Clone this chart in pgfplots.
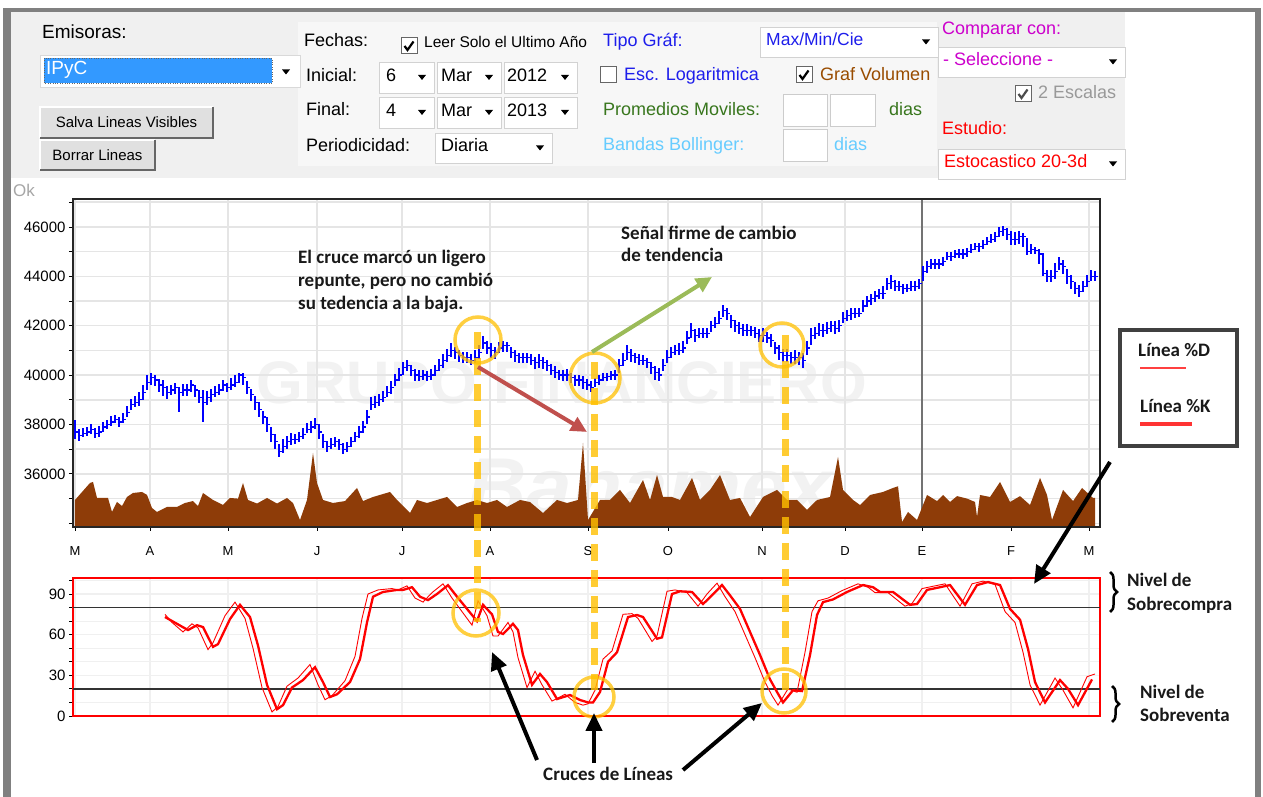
\documentclass[border=0pt]{standalone}
\usepackage{fontspec}
\setmainfont{Liberation Sans}
\newfontfamily\calfont{Carlito}
\usepackage{pgfplots}
\pgfplotsset{compat=1.18}
\usetikzlibrary{arrows.meta,decorations.pathreplacing}
\definecolor{framegray}{RGB}{128,128,128}
\definecolor{hdr}{RGB}{240,240,240}
\definecolor{panel}{RGB}{247,247,247}
\definecolor{selblue}{RGB}{51,153,255}
\definecolor{uiblue}{RGB}{30,30,235}
\definecolor{uibrown}{RGB}{153,76,0}
\definecolor{uigreen}{RGB}{56,118,29}
\definecolor{uilblue}{RGB}{102,204,255}
\definecolor{uimag}{RGB}{204,0,204}
\definecolor{uired}{RGB}{255,0,0}
\definecolor{volbrown}{RGB}{142,60,8}
\definecolor{yel}{RGB}{255,192,0}
\definecolor{arrred}{RGB}{192,80,77}
\definecolor{arrgreen}{RGB}{155,187,89}
\definecolor{wm}{RGB}{242,242,242}
\newcommand\fs[1]{\fontsize{#1}{#1}\selectfont}
\tikzset{t/.style={anchor=west, inner sep=0pt, text height=0.72em, text depth=0pt},
  a/.style={t, font=\calfont\bfseries\fs{19}, text=black!90}}
\pgfplotsset{ohlc/.style={blue, only marks, mark=-, mark size=1.6pt, mark options={xshift=1.5pt, line width=1.2pt},
  error bars/.cd, y dir=both, y explicit, error mark=none,
  error bar style={blue, line width=1.2pt}}}
\newcommand\dd[4]{%
  \fill[white] (#1,#2) rectangle (#3,#4);
  \draw[gray!35, line width=0.8] (#1,#2) rectangle (#3,#4);
  \fill[black] ({#3-16},{(#2+#4)/2-2.5}) -- ({#3-8},{(#2+#4)/2-2.5}) -- ({#3-12},{(#2+#4)/2+2.5}) -- cycle;}
\newcommand\cb[4]{%
  \fill[white] (#1,#2) rectangle ++(16,16);
  \draw[gray!80!black, line width=1] (#1,#2) rectangle ++(16,16);
  \ifnum#3=1 \draw[#4, line width=2.2] ({#1+3.5},{#2+8}) -- ({#1+6.5},{#2+12}) -- ({#1+12.5},{#2+3.5});\fi}
\newcommand\btn[5]{%
  \fill[gray!24] (#1,#2) rectangle (#3,#4);
  \draw[white, line width=1.5] (#1,#4) -- (#1,#2) -- (#3,#2);
  \draw[black!60, line width=2] (#3,#2) -- (#3,#4) -- (#1,#4);
  \node[font=\fs{15}] at ({(#1+#3)/2},{(#2+#4)/2}) {#5};}
\newcommand\tb[4]{%
  \fill[white] (#1,#2) rectangle (#3,#4);
  \draw[gray!40, line width=1] (#1,#2) rectangle (#3,#4);}
\begin{document}
\begin{tikzpicture}[x=1pt,y=1pt]
\useasboundingbox (0,0) rectangle (1263,797);
\fill[white] (0,0) rectangle (1263,797);
\begin{scope}[shift={(0,797)},yscale=-1]
% frame
\fill[framegray] (3,8) rectangle (1261,12);
\fill[framegray] (3,8) rectangle (11,797);
\fill[framegray] (1255,8) rectangle (1261,797);
% header
\fill[hdr] (11,12) rectangle (1125,178);
\fill[panel] (298,22) rectangle (937,166);
\node[t, font=\fs{19}] at (42,35) {Emisoras:};
\fill[white] (40,55) rectangle (300,87); \draw[gray!30] (40,55) rectangle (300,87);
\fill[selblue] (44,58) rectangle (272,83);
\draw[black!60, dotted] (44,58) rectangle (272,83);
\node[t, font=\fs{19}, text=white] at (46,71) {IPyC};
\fill[black] (282,69.5) -- (290,69.5) -- (286,74.5) -- cycle;
\btn{40}{107}{213}{138}{Salva Lineas Visibles}
\btn{40}{140}{155}{170}{Borrar Lineas}
\node[t, font=\fs{18}] at (304,43) {Fechas:};
\cb{401}{38}{1}{black}
\node[t, font=\fs{15.5}] at (424,44) {Leer Solo el Ultimo Año};
\node[t, font=\fs{18}] at (306,78) {Inicial:};
\dd{379}{62}{434}{93}\dd{437}{62}{501}{93}\dd{504}{62}{577}{93}
\node[t, font=\fs{18}] at (386,78) {6};
\node[t, font=\fs{18}] at (441,78) {Mar};
\node[t, font=\fs{18}] at (507,78) {2012};
\node[t, font=\fs{18}] at (306,112) {Final:};
\dd{379}{97}{434}{128}\dd{437}{97}{501}{128}\dd{504}{97}{577}{128}
\node[t, font=\fs{18}] at (386,113) {4};
\node[t, font=\fs{18}] at (441,113) {Mar};
\node[t, font=\fs{18}] at (507,113) {2013};
\node[t, font=\fs{18}] at (306,148) {Periodicidad:};
\dd{435}{133}{552}{163}
\node[t, font=\fs{18}] at (441,148) {Diaria};
\node[t, font=\fs{18}, text=uiblue] at (603,43) {Tipo Gráf:};
\dd{760}{27}{938}{57}
\node[t, font=\fs{17.5}, text=uiblue] at (766,42) {Max/Min/Cie};
\cb{600}{67}{0}{black}
\begin{scope}\clip (620,60) rectangle (761,95);
\node[t, font=\fs{18}, text=uiblue] at (624,77) {Esc. Logaritmica};
\end{scope}
\cb{796}{67}{1}{black}
\node[t, font=\fs{18}, text=uibrown] at (820,77) {Graf Volumen};
\node[t, font=\fs{18}, text=uigreen] at (603,112) {Promedios Moviles:};
\tb{783}{95}{827}{127}\tb{830}{95}{875}{127}
\node[t, font=\fs{18}, text=uigreen] at (889,112) {dias};
\node[t, font=\fs{18}, text=uilblue] at (603,147) {Bandas Bollinger:};
\tb{783}{130}{827}{162}
\node[t, font=\fs{18}, text=uilblue] at (834,147) {dias};
\node[t, font=\fs{18}, text=uimag] at (942,31) {Comparar con:};
\dd{938}{47}{1125}{77}
\node[t, font=\fs{18}, text=uimag] at (943,62) {- Seleccione -};
\cb{1015}{86}{1}{black!70}
\node[t, font=\fs{18}, text=gray!80] at (1038,95) {2 Escalas};
\node[t, font=\fs{18}, text=uired] at (942,131) {Estudio:};
\dd{938}{149}{1125}{179}
\node[t, font=\fs{18}, text=uired] at (944,164) {Estocastico 20-3d};
\node[t, font=\fs{17}, text=gray!70] at (13,193) {Ok};
% watermark
\node[font=\bfseries\fs{60}, text=wm] at (562,383) {GRUPO FINANCIERO};
\node[font=\bfseries\itshape\fs{82}, text=wm, inner sep=0pt] at (650,488) {Banamex};
\end{scope}

% ---------- main price chart ----------
\begin{axis}[
  at={(73pt,270pt)}, anchor=south west, scale only axis,
  width=1027pt, height=328pt,
  xmin=-0.5, xmax=256.25, ymin=33850, ymax=47130,
  axis line style={black!85, line width=1.2pt},
  xtick={0,18.75,38.25,60.5,81.75,103.75,128.25,148.25,171.75,192.5,211.75,234,253.5},
  xticklabels={M,A,M,J,J,A,S,O,N,D,E,F,M},
  ytick={36000,38000,40000,42000,44000,46000},
  minor ytick={34000,35000,37000,39000,41000,43000,45000,47000},
  xtick pos=bottom, ytick pos=left,
  grid=both, grid style={gray!20, line width=1.5pt},
  minor grid style={gray!20, line width=1.5pt},
  tick align=outside, major tick length=4pt, minor tick length=4pt,
  tick style={black, line width=0.8pt},
  minor tick style={black, line width=0.8pt},
  yticklabel style={font=\fs{15}},
  xticklabel style={font=\fs{13}, anchor=center, yshift=-20pt},
  /pgf/number format/assume math mode=true,
  /pgf/number format/set thousands separator={},
  scaled y ticks=false,
]
\addplot[black!55, line width=1.2pt] coordinates {(211.75,33850) (211.75,47130)};
\addplot[draw=none, fill=volbrown] table[x=d, y=v] {
d v
0 34944
3.75 35632
4.5 35673
5.5 35025
8.25 35025
9.25 34458
10.5 34863
11.75 34700
13 35065
14.5 35227
16.75 35268
18 35150
19.25 34620
20.5 34458
23 34660
25.5 34660
27.5 34822
29.5 34900
30.75 34700
32 35227
34.5 34944
37 34741
38.75 35025
40.75 35000
42 35632
43.25 34944
45.5 34800
48 35025
50.5 34800
53 35025
54.5 34820
56.25 34134
58 34944
59.5 36847
60.5 35632
62 34944
64.5 34822
67.5 34900
70.5 35430
72 34900
74.5 35065
78.75 35268
80.5 34944
83.75 34417
85.5 34944
88 34820
90.5 34944
93 35065
95.5 34660
98 34820
100.5 34944
103 34820
105.5 34944
108 34660
111.25 34944
113.75 34860
117 34417
120.5 34944
123 34820
125.75 34944
127 37252
128.25 34134
131.25 34944
133.75 34944
136.25 35350
138.75 34822
142 35754
143.75 34944
145.5 35956
147 35065
149.25 35065
151.25 34944
154.25 35835
156.25 34944
158.75 35350
161.25 35956
163.75 34944
166.25 35025
168.75 34255
172 35065
175.5 35350
178 34944
180.5 34944
183 34540
185.5 34944
188.75 35065
190.75 36685
192 35350
194.5 34944
196.25 34741
198.75 35146
202 35268
204.5 35430
205.75 35500
206.75 34053
208.25 34458
210.5 34134
213 35146
215.5 34900
217 35146
218.75 34863
220.5 35100
223 35000
225 34863
225.5 34255
226.25 35146
228.75 35065
231.25 35673
233.75 34863
236.25 35100
238.75 34741
241.25 35835
243 35146
244.25 34134
247 35350
249.5 34900
251.75 35430
254.5 35025
255 35025
} \closedcycle;
\addplot[ohlc] table[x=d, y=c, y error plus=p, y error minus=m] {
d c p m
0 37700 500 300
2 37650 200 150
4 37800 200 200
6 37700 250 200
8 38000 200 200
10 38200 200 150
12 38200 250 150
14 38800 250 200
16 39000 300 250
18 39700 300 300
20 39800 200 250
22 39500 300 350
24 39400 200 200
26 39300 200 800
28 39400 250 250
30 39400 200 300
32 38900 500 800
34 39200 250 300
36 39400 250 200
38 39500 200 200
40 39700 300 200
42 39900 200 300
44 39200 250 250
46 38600 300 300
48 38000 300 300
50 37300 300 300
52 37100 300 250
54 37400 250 250
56 37500 200 200
58 37800 250 150
60 38000 250 200
62 37300 300 250
64 37200 250 200
66 37200 200 250
68 37100 200 200
70 37500 200 200
72 37900 250 250
74 38800 300 200
76 39000 250 250
78 39300 250 200
80 39800 250 250
82 40300 250 300
84 40200 200 250
86 39950 250 200
88 39950 200 200
90 40200 200 250
92 40600 250 300
94 41000 300 250
96 40800 200 250
98 40700 250 200
100 40700 300 200
102 41300 300 250
104 41000 300 300
106 41100 250 200
108 41200 150 250
110 40800 200 250
112 40700 200 200
114 40600 250 200
116 40600 250 300
118 40400 200 250
120 40100 250 200
122 40000 200 250
124 39900 200 200
126 39800 200 250
128 39600 250 200
130 39700 200 200
132 39900 200 150
134 40000 150 200
136 40400 250 300
138 40900 300 300
140 40700 200 200
142 40600 200 200
144 40300 250 250
146 40000 300 250
148 40700 300 200
150 41000 200 200
152 41100 300 200
154 41800 300 300
156 41700 200 200
158 41700 200 200
160 42100 250 200
162 42600 250 250
164 42200 250 300
166 41900 250 250
168 41800 250 200
170 41700 250 200
172 41600 300 250
174 41400 250 250
176 40900 300 300
178 40800 250 250
180 40700 300 250
182 40600 300 300
184 41600 300 400
186 41800 300 200
188 41900 250 250
190 41900 300 250
192 42300 250 200
194 42500 200 250
196 42500 200 150
198 43000 200 250
200 43200 200 250
202 43300 300 200
204 43800 250 300
206 43600 200 200
208 43500 200 150
210 43600 200 200
212 44200 200 400
214 44500 200 200
216 44500 200 200
218 44800 200 150
220 44900 150 150
222 44900 200 200
224 45100 200 150
226 45200 150 200
228 45400 200 150
230 45600 200 200
232 45900 150 250
234 45500 350 250
236 45600 250 300
238 45000 550 150
240 45050 150 150
242 44100 850 100
244 44000 250 250
246 44500 300 250
248 44000 300 300
250 43500 250 200
252 43600 200 250
254 44000 250 200
};
\addplot[ohlc] table[x=d, y=c, y error plus=p, y error minus=m] {
d c p m
1 37550 250 200
3 37700 200 150
5 37650 200 200
7 37900 200 200
9 38100 250 150
11 38100 200 200
13 38500 250 200
15 38900 250 200
17 39300 300 300
19 39900 200 300
21 39600 250 300
23 39300 250 250
25 39500 200 250
27 39400 250 250
29 39600 200 300
31 39100 300 250
33 39100 250 300
35 39300 250 200
37 39600 200 250
39 39600 300 200
41 40000 100 300
43 39500 250 250
45 38900 250 300
47 38300 250 300
49 37600 300 300
51 36900 300 200
53 37300 250 300
55 37400 200 200
57 37600 250 200
59 37900 250 250
61 37700 300 300
63 37100 250 200
65 37300 200 200
67 37000 250 200
69 37300 200 200
71 37700 250 250
73 38300 300 300
75 38900 250 250
77 39100 250 200
79 39500 250 250
81 40000 300 250
83 40400 200 250
85 40000 250 250
87 40000 200 200
89 40000 250 200
91 40400 250 250
93 40800 250 250
95 40900 250 250
97 40700 250 200
99 40600 250 200
101 40900 300 250
103 41100 300 250
105 40900 250 250
107 41200 200 250
109 40900 250 200
111 40700 200 200
113 40700 200 200
115 40500 250 250
117 40500 250 250
119 40200 250 200
121 40000 200 200
123 40000 250 250
125 39800 200 250
127 39700 250 250
129 39500 250 200
131 39800 200 200
133 39950 150 200
135 40000 200 200
137 40600 300 250
139 40800 250 250
141 40600 250 200
143 40500 200 200
145 40100 250 300
147 40400 250 250
149 40900 250 200
151 41000 300 200
153 41500 300 250
155 41600 250 250
157 41700 200 200
159 42000 200 250
161 42300 300 250
163 42500 200 250
165 42000 250 250
167 41800 250 200
169 41800 200 200
171 41600 250 250
173 41500 250 200
175 41100 250 250
177 40800 250 250
179 40700 250 250
181 40700 250 300
183 41100 300 300
185 41700 250 250
187 41800 250 250
189 42000 200 250
191 42000 250 250
193 42400 250 200
195 42500 200 200
197 42800 250 250
199 43100 200 250
201 43300 200 200
203 43700 250 250
205 43600 250 200
207 43500 200 200
209 43600 200 200
211 43700 200 200
213 44400 200 250
215 44500 200 200
217 44600 200 200
219 44800 200 200
221 44900 200 150
223 45000 150 200
225 45200 150 150
227 45300 150 200
229 45500 200 150
231 45800 200 200
233 45700 250 250
235 45500 300 250
237 45600 150 400
239 45100 200 200
241 44900 200 400
243 44000 250 250
245 44200 350 300
247 44400 250 300
249 43800 250 300
251 43400 250 250
253 43800 250 250
255 44000 200 200
};
\end{axis}

% ---------- stochastic panel ----------
\begin{axis}[
  at={(73pt,81pt)}, anchor=south west, scale only axis,
  width=1027pt, height=138pt,
  xmin=-0.5, xmax=256.25, ymin=0, ymax=101.8,
  axis line style={red, line width=1.3pt},
  xtick={0,18.75,38.25,60.5,81.75,103.75,128.25,148.25,171.75,192.5,211.75,234,253.5},
  xticklabels={}, xtick style={draw=none},
  ytick={0,30,60,90}, minor ytick={10,20,40,50,70,80,100},
  ytick pos=left,
  grid=both, grid style={gray!12, line width=1.2pt},
  minor grid style={gray!12, line width=1.2pt},
  tick align=outside, major tick length=4pt, minor tick length=4pt,
  ytick style={black, line width=0.8pt},
  minor tick style={black, line width=0.8pt},
  yticklabel style={font=\fs{15}},
  /pgf/number format/assume math mode=true,
]
\addplot[black!80, line width=1.5pt] coordinates {(-0.5,80) (256.25,80)};
\addplot[black!80, line width=1.5pt] coordinates {(-0.5,20) (256.25,20)};
\addplot[red, line width=0.9pt] table[x=d, y=k] {
d k
22.5 75
24.25 69
27 62
29.25 68
30.75 65
33.25 49
34.5 54
37.5 74
40 84
42.5 72
44.5 50
46.75 21
49.25 3
50.75 7
53 22
55.75 28
58.75 38
60.75 23
62.5 12
64.25 15
67.5 26
70 44
71.75 72
73.25 90
75.75 93
79.25 94
80.75 93
83 96
85 87
87 84
89.25 91
92 97.5
94.25 87
96.75 77
99.25 67
100.75 85
103 74
104.5 59
105.75 59
108.25 69
109.5 62
110.75 43
113 21
115 33
116.75 23
119.25 11
122.5 16
125 10
127 8
128.25 9
130 19
132 42
134.25 48
137 75
139.25 75.5
140.75 72
144.25 55
145.5 59
148 92
150 93
153 91
155.75 81
158 90
160.5 98
162.5 88
165 77
167.5 60
170 43
172.5 25
174.25 15
175.75 8
178.25 20
180.5 17.5
182.5 47
184.25 77
185.75 85
188.25 87
191.75 92.5
195.75 97.5
198.25 95
200 91
203.25 91
207.5 81
209.25 83
211.75 94
215 96
217.5 97.5
221.25 81
224.25 97.5
227 99.5
230 97
232.5 77
235 69
237 47
238.75 23
241.25 8
245 28
247 19
249.5 6
253 29
255 31
};
\addplot[red, line width=2.3pt] table[x=d, y=k] {
d k
22.5 73
25.5 68
28.25 63.4
30.5 67
32 65.6
34.5 51
35.75 53
38.75 71.5
41.25 82
43.75 73
45.75 52
48 23
50.5 5
52 8
54.25 21
57 26.5
60 36
62 25
63.75 14
65.5 16
68.75 25
71.25 42
73 69
74.5 88
77 91.5
80.5 93
82 93
84.25 95
86.25 88
88.25 85.5
90.5 90
93.25 96.5
95.5 88
98 79
100.5 70
102 82
104.25 75
105.75 62
107 60.5
109.5 68
110.75 63.4
112 45
114.25 23
116.25 31
118 25
120.5 12.5
123.75 15.5
126.25 11.8
128.25 10
129.5 10
131.25 17.7
133.25 40
135.5 47
138.25 73
140.5 74.5
142 73
145.5 57
146.75 58
149.25 90
151.25 92
154.25 91.5
157 82.6
159.25 89
161.75 96.6
163.75 89
166.25 79
168.75 62
171.25 45
173.75 27
175.5 17.7
177 10
179.5 19
181.75 18.4
183.75 45
185.5 74.5
187 84
189.5 86
193 91.5
197 96.6
199.5 95
201.25 91.5
204.5 91.5
208.75 82
210.5 82.6
213 93
216.25 95
218.75 96.6
222.5 82
225.5 96.6
228.25 98.8
231.25 96.6
233.75 79
236.25 71
238.25 49.4
240 25
242.5 10
246.25 26.5
248.25 20
250.75 8
254.25 27
};
\end{axis}

% ---------- annotations ----------
\begin{scope}[shift={(0,797)},yscale=-1]
\draw[black!85, line width=1.6] (73,199) rectangle (1100,527);
\draw[yel, opacity=0.8, line width=7, dash pattern=on 17pt off 9pt] (477,332) -- (477,622);
\draw[yel, opacity=0.8, line width=7, dash pattern=on 17pt off 9pt] (594,362) -- (594,690);
\draw[yel, opacity=0.8, line width=7, dash pattern=on 17pt off 9pt] (785,335) -- (785,690);
\draw[yel, opacity=0.75, line width=3.5] (478,340) circle[radius=23];
\draw[yel, opacity=0.75, line width=3.5] (595,378) circle[radius=25];
\draw[yel, opacity=0.75, line width=3.5] (782,345) circle[radius=22];
\draw[yel, opacity=0.75, line width=3.5] (476,613) circle[radius=23];
\draw[yel, opacity=0.75, line width=3.5] (594,697) circle[radius=20];
\draw[yel, opacity=0.75, line width=3.5] (784,691) circle[radius=22];
\draw[arrred, line width=4, -{Triangle[length=16pt,width=15pt]}] (478,367) -- (587,432);
\draw[arrgreen, line width=4, -{Triangle[length=16pt,width=15pt]}] (592,352) -- (712,277);
\draw[black, line width=4, -{Triangle[length=18pt,width=16pt]}] (537,760) -- (492,652);
\draw[black, line width=4, -{Triangle[length=18pt,width=16pt]}] (594,763) -- (594,713);
\draw[black, line width=4, -{Triangle[length=18pt,width=16pt]}] (683,770) -- (762,703);
\draw[black, line width=4, -{Triangle[length=18pt,width=16pt]}] (1110,462) -- (1034,584);
\node[a] at (298,260) {El cruce marcó un ligero};
\node[a] at (298,283) {repunte, pero no cambió};
\node[a] at (298,306) {su tedencia a la baja.};
\node[a] at (621,236) {Señal firme de cambio};
\node[a] at (621,258) {de tendencia};
\node[a] at (543,777) {Cruces de Líneas};
\draw[black!75, line width=4.5] (1120,330) rectangle (1237,446);
\node[a] at (1138,353) {Línea \%D};
\draw[red!75, line width=1.5] (1140,368) -- (1186,368);
\node[a] at (1140,409) {Línea \%K};
\draw[red!80, line width=4] (1140,424) -- (1192,424);
\draw[black, line width=2.5, decorate, decoration={brace, amplitude=7pt}] (1110,572) -- (1110,612);
\draw[black, line width=2.5, decorate, decoration={brace, amplitude=7pt}] (1112,686) -- (1112,722);
\node[a] at (1127,583) {Nivel de};
\node[a] at (1127,607) {Sobrecompra};
\node[a] at (1140,695) {Nivel de};
\node[a] at (1140,718) {Sobreventa};
\end{scope}
\end{tikzpicture}
\end{document}
